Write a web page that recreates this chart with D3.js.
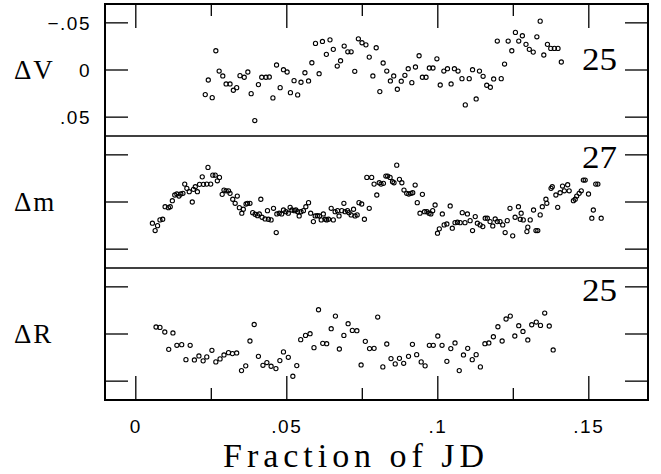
<!DOCTYPE html>
<html>
<head>
<meta charset="utf-8">
<script src="https://cdnjs.cloudflare.com/ajax/libs/d3/7.8.5/d3.min.js"></script>
<style>
  body { margin: 0; background: #fff; }
</style>
</head>
<body>
<svg id="chart" width="661" height="474"></svg>
<script>
// Delta V panel (fraction of JD, mag)
var vX = [.0230,.0253,.0240,.0265,.0276,.0288,.0299,.0312,.0323,.0334,.0345,.0359,.0371,.0382,.0394,.0406,.0417,.0431,.0442,.0454,
  .0466,.0478,.0489,.0501,.0512,.0524,.0536,.0547,.0560,.0572,.0583,.0595,.0607,.0618,.0631,.0643,.0654,.0667,.0678,.0690,
  .0702,.0713,.0725,.0737,.0749,.0762,.0773,.0785,.0796,.0808,.0819,.0831,.0843,.0854,.0866,.0879,.0891,.0902,.0914,.0926,
  .0938,.0949,.0961,.0972,.0984,.0997,.1008,.1020,.1032,.1044,.1055,.1067,.1080,.1091,.1104,.1115,.1127,.1138,.1150,.1162,
  .1174,.1185,.1197,.1210,.1221,.1233,.1245,.1257,.1268,.1280,.1292,.1303,.1316,.1328,.1339,.1351,.1363,.1374,.1386,.1398,.1409];
var vY = [.0261,.0293,.0106,-.0204,.0011,.0063,.0148,.0148,.0215,.0187,.0060,.0077,.0021,.0251,.0536,.0155,.0077,.0077,.0074,.0296,
  -.0053,.0187,-.0003,.0021,.0240,.0113,.0264,.0130,.0029,.0116,-.0077,-.0282,.0039,-.0303,-.0166,-.0320,-.0219,-.0042,-.0098,-.0254,
  -.0193,-.0193,.0014,-.0331,-.0289,-.0267,-.0137,.0063,-.0236,.0229,-.0074,.0011,.0116,.0063,.0204,.0119,.0056,-.0014,.0134,-.0032,
  -.0151,.0077,.0077,-.0021,-.0021,-.0119,.0159,.0011,-.0014,.0148,-.0014,.0011,.0092,.0370,.0092,-.0003,.0307,.0011,.0067,.0162,
  .0183,.0095,-.0307,.0092,-.0063,-.0307,-.0204,-.0399,-.0307,-.0363,-.0272,-.0219,-.0190,-.0352,-.0518,-.0159,-.0272,-.0229,-.0229,-.0229,-.0085];

// Delta m panel
var mX = [.0055,.0064,.0072,.0080,.0089,.0097,.0108,.0114,.0121,.0129,.0136,.0143,.0149,.0156,.0162,.0169,.0177,.0187,.0191,.0197,
  .0204,.0211,.0220,.0224,.0235,.0239,.0248,.0255,.0263,.0270,.0277,.0286,.0292,.0299,.0307,.0312,.0321,.0329,.0336,.0343,
  .0351,.0356,.0365,.0370,.0378,.0387,.0395,.0403,.0409,.0414,.0418,.0428,.0436,.0439,.0448,.0456,.0465,.0467,.0475,.0483,
  .0489,.0497,.0505,.0511,.0517,.0525,.0530,.0536,.0541,.0547,.0555,.0563,.0572,.0579,.0588,.0594,.0601,.0608,.0614,.0621,
  .0627,.0632,.0638,.0647,.0654,.0660,.0668,.0673,.0682,.0689,.0693,.0701,.0706,.0713,.0721,.0726,.0733,.0739,.0748,.0757,
  .0765,.0773,.0781,.0789,.0798,.0806,.0812,.0820,.0828,.0834,.0842,.0850,.0855,.0864,.0873,.0881,.0888,.0897,.0904,.0911,
  .0917,.0925,.0932,.0941,.0949,.0956,.0964,.0971,.0977,.0983,.0991,.0999,.1005,.1015,.1021,.1030,.1041,.1048,.1057,.1065,
  .1074,.1081,.1090,.1098,.1107,.1115,.1124,.1131,.1140,.1149,.1157,.1164,.1173,.1182,.1190,.1197,.1206,.1215,.1223,.1230,
  .1239,.1248,.1256,.1267,.1276,.1273,.1283,.1295,.1298,.1306,.1317,.1325,.1331,.1339,.1346,.1358,.1361,.1375,.1379,.1391,
  .1397,.1405,.1413,.1419,.1430,.1435,.1449,.1455,.1460,.1468,.1475,.1482,.1488,.1499,.1510,.1515,.1523,.1530,.1541];
var mY = [.0225,.0303,.0251,.0190,.0183,.0050,.0060,.0050,-.0014,-.0074,-.0085,-.0063,-.0085,-.0092,-.0190,-.0145,-.0109,.0000,-.0134,-.0162,
  -.0109,-.0187,-.0267,-.0187,-.0190,-.0367,-.0190,-.0285,-.0285,-.0225,-.0261,-.0081,-.0127,-.0119,-.0119,-.0092,-.0029,.0014,-.0063,.0060,
  .0119,.0077,.0021,.0014,.0014,.0113,.0130,.0145,.0127,-.0029,.0162,.0180,.0092,.0183,.0190,.0067,.0324,.0127,.0119,.0127,
  .0085,.0103,.0119,.0056,.0085,.0092,.0085,.0103,.0148,.0103,.0092,.0050,.0007,.0119,.0208,.0148,.0145,.0148,.0190,.0127,
  .0183,.0190,.0183,.0067,.0190,.0103,.0092,.0148,.0092,.0014,.0103,.0092,.0113,.0137,.0077,.0148,.0137,.0007,.0021,.0183,
  -.0261,.0067,-.0261,-.0190,-.0074,-.0204,-.0190,-.0198,-.0275,-.0275,-.0261,-.0215,-.0204,-.0391,-.0240,-.0204,-.0127,-.0092,-.0085,-.0092,
  -.0098,-.0180,.0007,.0119,-.0081,.0103,.0103,.0119,.0127,.0092,.0032,.0331,.0285,.0127,.0243,.0233,.0042,.0278,.0219,.0215,
  .0219,.0113,.0219,.0127,.0198,.0303,.0155,.0225,.0243,.0261,.0172,.0172,.0208,.0254,.0180,.0208,.0208,.0243,.0324,.0198,
  .0067,.0359,.0162,.0050,.0119,.0183,.0190,.0314,.0267,.0190,.0085,.0303,.0303,.0137,.0050,-.0029,.0014,-.0145,-.0162,-.0074,
  .0056,-.0098,-.0169,-.0119,-.0183,-.0119,-.0014,-.0029,-.0063,-.0092,-.0119,-.0233,-.0233,-.0085,.0172,.0085,-.0190,-.0190,.0172];

// Delta R panel
var rX = [.0067,.0080,.0096,.0109,.0123,.0136,.0152,.0166,.0180,.0194,.0209,.0223,.0235,.0252,.0265,.0279,.0292,.0307,.0320,.0334,
  .0350,.0364,.0378,.0392,.0406,.0421,.0434,.0448,.0464,.0477,.0489,.0505,.0520,.0533,.0546,.0562,.0577,.0590,.0605,.0619,
  .0632,.0647,.0661,.0674,.0689,.0703,.0717,.0732,.0746,.0760,.0774,.0789,.0801,.0818,.0831,.0845,.0859,.0873,.0887,.0903,
  .0916,.0930,.0945,.0958,.0972,.0985,.1000,.1014,.1030,.1043,.1057,.1071,.1085,.1099,.1114,.1127,.1141,.1156,.1169,.1184,
  .1199,.1213,.1226,.1240,.1255,.1268,.1282,.1298,.1311,.1326,.1340,.1354,.1369,.1382];
var rY = [-.0074,-.0070,-.0021,.0163,-.0011,.0120,.0113,.0272,.0120,.0275,.0233,.0285,.0243,.0173,.0296,.0264,.0222,.0198,.0208,.0201,
  .0388,.0338,.0074,-.0101,.0237,.0332,.0303,.0342,.0367,.0282,.0190,.0247,.0448,.0335,.0060,.0015,-.0003,.0145,-.0257,.0099,
  .0103,-.0056,-.0190,.0159,.0015,-.0109,-.0038,-.0035,.0328,.0078,.0155,.0152,-.0180,.0349,.0106,.0261,.0317,.0258,.0311,.0237,
  .0110,.0219,.0296,.0338,.0120,.0120,.0021,.0120,.0290,.0155,.0095,.0388,.0222,.0152,.0272,.0219,.0349,.0103,.0095,.0029,
  -.0077,.0074,-.0159,-.0190,.0021,-.0088,-.0027,.0063,-.0098,-.0127,-.0091,-.0222,-.0085,.0169];

var xTickLabels = ["0", ".05", ".1", ".15"];
var yTickLabels = ["\u2212.05", "0", ".05"];
var panelLabels = ["\u0394V", "\u0394m", "\u0394R"];
var nightLabels = ["25", "27", "25"];

var svg = d3.select("#chart");

// frame geometry
var frameL = 105, frameR = 648, frameT = 4, panelH = 132;
var frameB = frameT + 3 * panelH;

var x = d3.scaleLinear()
    .domain([-0.0102, 0.1696])
    .range([frameL, frameR]);

var panels = [
  { xs: vX, ys: vY, label: panelLabels[0], night: nightLabels[0], ticks: true,  nightY: 66 },
  { xs: mX, ys: mY, label: panelLabels[1], night: nightLabels[1], ticks: false, nightY: 32 },
  { xs: rX, ys: rY, label: panelLabels[2], night: nightLabels[2], ticks: false, nightY: 33 }
];

panels.forEach(function(p, k) {
  var y0 = frameT + k * panelH;
  var y = d3.scaleLinear()
      .domain([-0.07, 0.07])          // negative (brighter) at top
      .range([y0, y0 + panelH]);

  var g = svg.append("g");

  // y ticks on both sides, pointing inward
  var yt = [-0.05, 0, 0.05];
  g.selectAll("line.yl").data(yt).enter().append("line")
      .attr("x1", frameL).attr("x2", frameL + 23)
      .attr("y1", function(d) { return y(d); })
      .attr("y2", function(d) { return y(d); })
      .attr("stroke", "#000").attr("stroke-width", 1.3);
  g.selectAll("line.yr").data(yt).enter().append("line")
      .attr("x1", frameR).attr("x2", frameR - 23)
      .attr("y1", function(d) { return y(d); })
      .attr("y2", function(d) { return y(d); })
      .attr("stroke", "#000").attr("stroke-width", 1.3);

  if (p.ticks) {
    g.selectAll("text.ytl").data(yt).enter().append("text")
        .attr("x", 91)
        .attr("y", function(d) { return y(d) + 7; })
        .attr("text-anchor", "end")
        .style("font-family", "'Liberation Sans', Arial, sans-serif")
        .style("font-size", "19px")
        .style("letter-spacing", "1.5px")
        .text(function(d, i) { return yTickLabels[i]; });
  }

  // panel name on the left
  g.append("text")
      .attr("x", 14)
      .attr("y", y(0) + 9)
      .style("font-family", "'Liberation Serif', 'Times New Roman', serif")
      .style("font-size", "27px")
      .style("letter-spacing", "2px")
      .text(p.label);

  // number of nights, top right
  g.append("text")
      .attr("x", 617)
      .attr("y", y0 + p.nightY)
      .attr("text-anchor", "end")
      .attr("textLength", 35)
      .attr("lengthAdjust", "spacingAndGlyphs")
      .style("font-family", "'Liberation Serif', 'Times New Roman', serif")
      .style("font-size", "31px")
      .text(p.night);

  // the points
  g.selectAll("circle").data(p.xs).enter().append("circle")
      .attr("cx", function(d) { return x(d); })
      .attr("cy", function(d, i) { return y(p.ys[i]); })
      .attr("r", 2.1)
      .attr("fill", "none")
      .attr("stroke", "#000")
      .attr("stroke-width", 1.1);

  // divider under panels 1 and 2
  if (k < 2) {
    svg.append("line")
        .attr("x1", frameL).attr("x2", frameR)
        .attr("y1", y0 + panelH).attr("y2", y0 + panelH)
        .attr("stroke", "#000").attr("stroke-width", 1.3);
  }
});

// x ticks: every .025, long at .05 multiples, on top and bottom edges
var xt = [0, 0.025, 0.05, 0.075, 0.1, 0.125, 0.15];
svg.selectAll("line.xb").data(xt).enter().append("line")
    .attr("x1", function(d) { return x(d); })
    .attr("x2", function(d) { return x(d); })
    .attr("y1", frameB)
    .attr("y2", function(d, i) { return frameB - (i % 2 == 0 ? 24 : 12); })
    .attr("stroke", "#000").attr("stroke-width", 1.3);
svg.selectAll("line.xt").data(xt).enter().append("line")
    .attr("x1", function(d) { return x(d); })
    .attr("x2", function(d) { return x(d); })
    .attr("y1", frameT)
    .attr("y2", function(d, i) { return frameT + (i % 2 == 0 ? 24 : 12); })
    .attr("stroke", "#000").attr("stroke-width", 1.3);

svg.selectAll("text.xtl").data([0, 0.05, 0.1, 0.15]).enter().append("text")
    .attr("x", function(d) { return x(d); })
    .attr("y", 433)
    .attr("text-anchor", "middle")
    .style("font-family", "'Liberation Sans', Arial, sans-serif")
    .style("font-size", "19px")
    .style("letter-spacing", "1.5px")
    .text(function(d, i) { return xTickLabels[i]; });

// axis title
svg.append("text")
    .attr("x", 223)
    .attr("y", 467)
    .attr("textLength", 261)
    .attr("lengthAdjust", "spacing")
    .style("font-family", "'Liberation Serif', 'Times New Roman', serif")
    .style("font-size", "34px")
    .text("Fraction of JD");

// outer frame
svg.append("rect")
    .attr("x", frameL).attr("y", frameT)
    .attr("width", frameR - frameL).attr("height", frameB - frameT)
    .attr("fill", "none")
    .attr("stroke", "#000")
    .attr("stroke-width", 2);
</script>
</body>
</html>
